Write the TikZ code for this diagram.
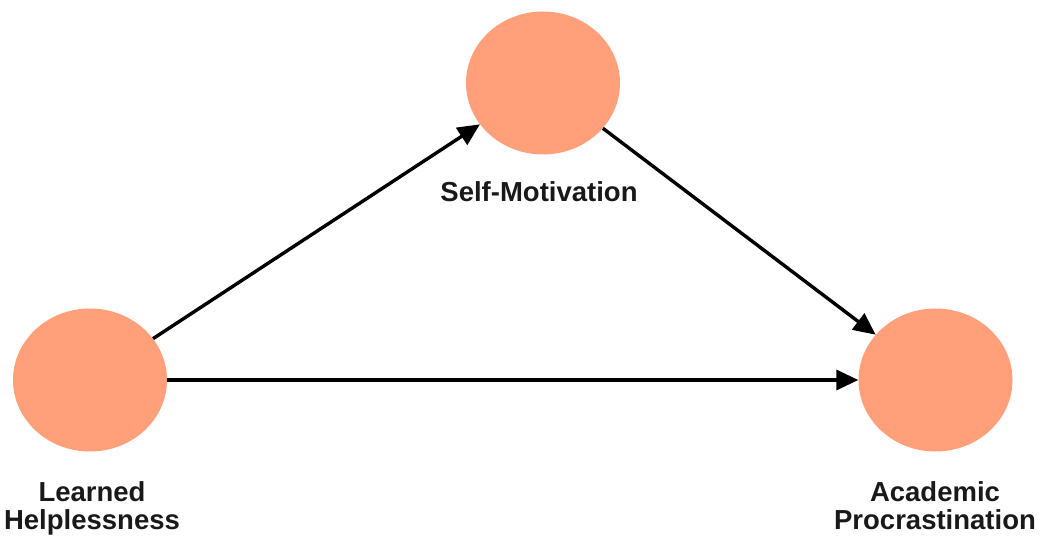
\documentclass[tikz,border=0pt]{standalone}
\usepackage{fontspec}
\setmainfont{Liberation Sans}
\usetikzlibrary{shapes.geometric,arrows.meta}
\definecolor{salmonfill}{RGB}{255,160,122}
\begin{document}
\begin{tikzpicture}[x=1pt,y=-1pt,
  var/.style={ellipse,fill=salmonfill,draw=none,minimum width=154pt,minimum height=143pt,inner sep=0pt},
  lbl/.style={font=\bfseries\fontsize{27.5}{28}\selectfont,text=black!90,inner sep=0pt,align=center},
  conn/.style={line width=3.4pt,-{Triangle[length=22pt,width=20pt]}}]
\useasboundingbox (0,0) rectangle (1042,537);
\node[var] (sm) at (543,83) {};
\node[var] (lh) at (90,380) {};
\node[var] (ap) at (935.5,380) {};
\node[lbl,anchor=base] (smt) at (539,202) {Self-Motivation};
\node[lbl,anchor=north] (lht) at (92,481) {Learned\\Helplessness};
\node[lbl,anchor=north] (apt) at (935,481) {Academic\\Procrastination};
\draw[conn] (lh) -- (sm);
\draw[conn] (sm) -- (ap);
\draw[conn] (lh) -- (ap);
\end{tikzpicture}
\end{document}
